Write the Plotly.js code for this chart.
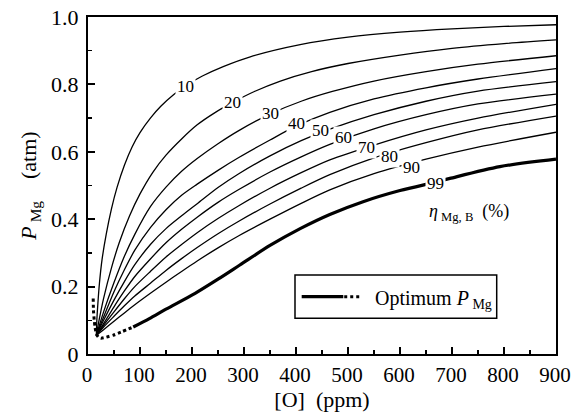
<!DOCTYPE html>
<html><head><meta charset="utf-8">
<script src="https://cdn.plot.ly/plotly-3.0.1.min.js"></script>
<style>html,body{margin:0;padding:0;background:#fff}#chart{width:571px;height:417px}</style>
</head><body><div id="chart"></div>
<script>
// ---- data ----
const eta10_O = [16, 17, 19, 22, 27, 35, 45, 56, 70, 85, 100, 120, 140, 165, 190, 220, 260, 312, 408, 500, 600, 700, 800, 900];
const eta10_P = [0.055, 0.10, 0.15, 0.21, 0.28, 0.355, 0.43, 0.495, 0.56, 0.615, 0.657, 0.70, 0.735, 0.77, 0.798, 0.825, 0.853, 0.882, 0.918, 0.94, 0.955, 0.965, 0.972, 0.977];

const eta20_O = [16, 20, 30, 45, 60, 80, 100, 125, 150, 180, 210, 245, 280, 320, 370, 430, 500, 600, 700, 800, 900];
const eta20_P = [0.055, 0.09, 0.165, 0.255, 0.33, 0.41, 0.475, 0.54, 0.59, 0.638, 0.68, 0.717, 0.748, 0.779, 0.81, 0.838, 0.862, 0.887, 0.907, 0.921, 0.932];

const eta30_O = [16, 30, 50, 70, 90, 120, 150, 180, 210, 250, 290, 350, 410, 470, 550, 650, 750, 900];
const eta30_P = [0.055, 0.125, 0.212, 0.29, 0.355, 0.437, 0.495, 0.542, 0.58, 0.624, 0.663, 0.712, 0.75, 0.779, 0.81, 0.838, 0.86, 0.885];

const eta40_O = [16, 30, 50, 70, 90, 120, 150, 180, 210, 250, 290, 350, 400, 465, 550, 650, 750, 900];
const eta40_P = [0.055, 0.11, 0.185, 0.25, 0.308, 0.375, 0.428, 0.471, 0.504, 0.545, 0.583, 0.635, 0.676, 0.717, 0.757, 0.79, 0.816, 0.847];

const eta50_O = [16, 30, 50, 70, 90, 120, 150, 180, 210, 250, 290, 350, 410, 465, 550, 650, 750, 900];
const eta50_P = [0.055, 0.10, 0.16, 0.215, 0.265, 0.325, 0.372, 0.41, 0.446, 0.494, 0.535, 0.588, 0.633, 0.667, 0.71, 0.75, 0.78, 0.808];

const eta60_O = [16, 30, 50, 70, 90, 120, 150, 180, 210, 250, 290, 350, 410, 465, 550, 650, 750, 900];
const eta60_P = [0.055, 0.09, 0.14, 0.187, 0.23, 0.282, 0.33, 0.37, 0.406, 0.45, 0.488, 0.54, 0.585, 0.622, 0.668, 0.71, 0.742, 0.771];

const eta70_O = [16, 30, 50, 70, 90, 120, 150, 180, 210, 250, 290, 350, 410, 465, 550, 650, 750, 900];
const eta70_P = [0.055, 0.085, 0.125, 0.164, 0.20, 0.245, 0.288, 0.325, 0.36, 0.402, 0.44, 0.492, 0.538, 0.576, 0.62, 0.665, 0.70, 0.741];

const eta80_O = [16, 30, 50, 70, 90, 120, 150, 180, 210, 250, 290, 350, 410, 465, 550, 650, 750, 900];
const eta80_P = [0.055, 0.08, 0.112, 0.143, 0.172, 0.21, 0.248, 0.283, 0.316, 0.357, 0.394, 0.445, 0.492, 0.532, 0.582, 0.627, 0.665, 0.706];

const eta90_O = [16, 30, 50, 70, 90, 120, 150, 180, 210, 250, 290, 350, 410, 465, 550, 650, 750, 900];
const eta90_P = [0.055, 0.072, 0.097, 0.122, 0.146, 0.18, 0.213, 0.245, 0.276, 0.315, 0.351, 0.40, 0.447, 0.487, 0.535, 0.578, 0.614, 0.658];

const eta99_O = [87, 118, 150, 206, 250, 292, 350, 408, 465, 529, 600, 668, 696, 792, 900];
const eta99_P = [0.08, 0.105, 0.133, 0.18, 0.222, 0.264, 0.322, 0.372, 0.414, 0.452, 0.485, 0.51, 0.521, 0.556, 0.578];

const optDot_O = [10, 10.5, 12, 13.5, 16, 20, 25, 35, 49, 65, 87];
const optDot_P = [0.165, 0.13, 0.10, 0.08, 0.06, 0.05, 0.047, 0.05, 0.056, 0.066, 0.08];

const curveNames = ['10', '20', '30', '40', '50', '60', '70', '80', '90', '99'];
const labelO = [188, 277, 350, 401, 447, 491, 535, 580, 623, 668];
const labelP = [0.795, 0.747, 0.714, 0.683, 0.663, 0.641, 0.613, 0.587, 0.553, 0.507];

const xTickVals = [0, 100, 200, 300, 400, 500, 600, 700, 800, 900];
const xTickText = ['0', '100', '200', '300', '400', '500', '600', '700', '800', '900'];
const yTickVals = [0, 0.2, 0.4, 0.6, 0.8, 1.0];
const yTickText = ['0', '0.2', '0.4', '0.6', '0.8', '1.0'];

// ---- build traces ----
const serif = 'Liberation Serif, Times New Roman, serif';
const allO = [eta10_O, eta20_O, eta30_O, eta40_O, eta50_O, eta60_O, eta70_O, eta80_O, eta90_O, eta99_O];
const allP = [eta10_P, eta20_P, eta30_P, eta40_P, eta50_P, eta60_P, eta70_P, eta80_P, eta90_P, eta99_P];
const traces = allO.map((o, i) => ({
  x: o, y: allP[i], type: 'scatter', mode: 'lines', name: curveNames[i],
  line: {color: '#000', width: i === 9 ? 3.2 : 1.3, shape: 'spline', smoothing: 0.8},
  showlegend: false, hoverinfo: 'skip'
}));
traces.push({
  x: optDot_O, y: optDot_P, type: 'scatter', mode: 'lines', name: 'Optimum (dotted)',
  line: {color: '#000', width: 3, dash: 'dot', shape: 'spline', smoothing: 0.6},
  showlegend: false, hoverinfo: 'skip'
});

const annotations = curveNames.map((t, i) => ({
  x: labelO[i], y: labelP[i], xref: 'x', yref: 'y', text: t, showarrow: false,
  font: {family: serif, size: 17, color: '#000'}, bgcolor: '#fff', borderpad: 1
}));
annotations.push({
  x: 733, y: 0.421, xref: 'x', yref: 'y', showarrow: false,
  text: '<i>η</i><sub> Mg, B</sub>\u00A0\u00A0(%)',
  font: {family: serif, size: 18, color: '#000'}
});
annotations.push({
  x: 0.6096, y: 0.163, xref: 'paper', yref: 'paper', xanchor: 'left', yanchor: 'middle', showarrow: false,
  text: 'Optimum <i>P</i><sub> Mg</sub>',
  font: {family: serif, size: 20, color: '#000'}
});

const shapes = [
  {type: 'rect', xref: 'paper', yref: 'paper', x0: 0.4423, x1: 0.8733, y0: 0.106, y1: 0.2344,
   line: {color: '#000', width: 1.5}, fillcolor: '#fff', layer: 'above'},
  {type: 'line', xref: 'paper', yref: 'paper', x0: 0.4566, x1: 0.5455, y0: 0.170, y1: 0.170,
   line: {color: '#000', width: 3.2}, layer: 'above'},
  {type: 'line', xref: 'paper', yref: 'paper', x0: 0.5475, x1: 0.5812, y0: 0.170, y1: 0.170,
   line: {color: '#000', width: 3, dash: 'dot'}, layer: 'above'}
];

const axisCommon = {
  showline: true, linewidth: 2, linecolor: '#000', mirror: true,
  showgrid: false, zeroline: false, ticks: 'inside', ticklen: 7, tickwidth: 2, tickcolor: '#000',
  ticklabeloverflow: 'allow'
};

const layout = {
  width: 571, height: 417,
  margin: {l: 88, r: 15, t: 17, b: 63},
  paper_bgcolor: '#fff', plot_bgcolor: '#fff',
  font: {family: serif, color: '#000'},
  xaxis: Object.assign({}, axisCommon, {
    range: [0, 900], tickmode: 'array', tickvals: xTickVals, ticktext: xTickText,
    ticklabelstandoff: 1, ticklabelshift: -1,
    tickfont: {family: serif, size: 21, color: '#000'},
    minor: {tickmode: 'linear', tick0: 0, dtick: 50, ticks: 'inside', ticklen: 4, tickwidth: 1.5, tickcolor: '#000'},
    title: {text: '[O]\u00A0\u00A0(ppm)', font: {family: serif, size: 22, color: '#000'}, standoff: 0}
  }),
  yaxis: Object.assign({}, axisCommon, {
    range: [0, 1], tickmode: 'array', tickvals: yTickVals, ticktext: yTickText, ticklabelstandoff: 3,
    tickfont: {family: serif, size: 22, color: '#000'},
    minor: {tickmode: 'linear', tick0: 0, dtick: 0.1, ticks: 'inside', ticklen: 4, tickwidth: 1.5, tickcolor: '#000'},
    title: {text: '<i>P</i><sub> Mg</sub>\u00A0\u00A0\u00A0\u00A0(atm)', font: {family: serif, size: 22, color: '#000'}, standoff: 8}
  }),
  annotations: annotations,
  shapes: shapes,
  showlegend: false
};

Plotly.newPlot('chart', traces, layout, {displayModeBar: false, staticPlot: true});
</script></body></html>
